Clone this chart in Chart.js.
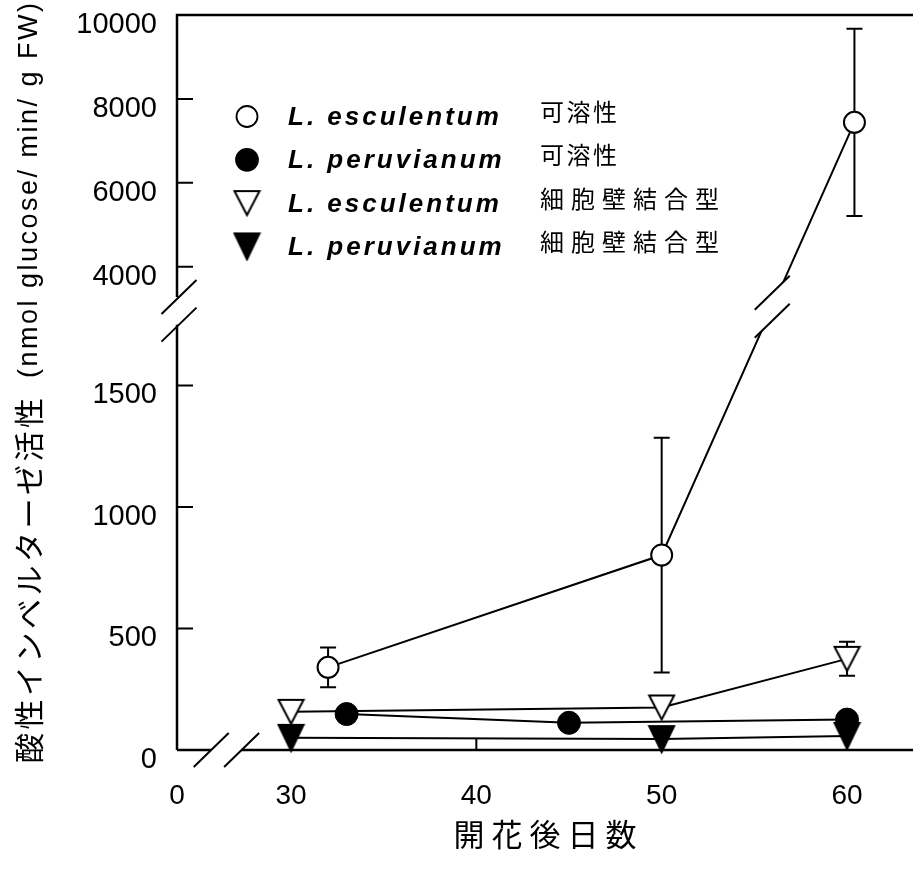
<!DOCTYPE html>
<html>
<head>
<meta charset="utf-8">
<script src="https://cdn.jsdelivr.net/npm/chart.js@4.4.1/dist/chart.umd.min.js"></script>
<style>
  html, body { margin: 0; padding: 0; background: #fff; }
  #wrap { width: 913px; height: 870px; }
</style>
</head>
<body>
<div id="wrap"><canvas id="invertase" width="913" height="870"></canvas></div>
<script>
// days after flowering / acid invertase activity (nmol glucose/min/g FW)
const escSolubleDays = [32, 50, 60.4];
const escSolubleValues = [340, 802, 7440];
const escSolubleErrors = [82, 483, 2230];

const peruSolubleDays = [33, 45, 60];
const peruSolubleValues = [148, 112, 125];

const escWallDays = [30, 50, 60];
const escWallValues = [157, 175, 375];
const escWallErrors = [0, 0, 70];

const peruWallDays = [30, 50, 60];
const peruWallValues = [50, 45, 58];

const xTicks = [0, 30, 40, 50, 60];
const yTicks = [0, 500, 1000, 1500, 4000, 6000, 8000, 10000];

const speciesNames = ['L. esculentum', 'L. peruvianum', 'L. esculentum', 'L. peruvianum'];
const fractionNames = ['可溶性', '可溶性', '細胞壁結合型', '細胞壁結合型'];

const yTitleJa = '酸性インベルターゼ活性';
const yTitleUnit = '(nmol glucose/ min/ g FW)';
const xTitle = '開 花 後 日 数';

// broken axes: value -> fraction of the axis length
const Y_MAP = [[0, 0], [1750, 0.5787], [3276, 0.6163], [10000, 1]];
const X_MAP = [[0, 0], [30, 0.1549], [63.56, 1]];
const Y_GAP = [1750, 3276];
const X_GAP = [9, 17];

function interp(map, v, a, b) {
  let i = 0;
  while (i < map.length - 2 && v > map[i + 1][a]) i++;
  const p = map[i], q = map[i + 1];
  return p[b] + (v - p[a]) * (q[b] - p[b]) / (q[a] - p[a]);
}

class BrokenLinearScale extends Chart.LinearScale {
  get breakMap() { return this.axis === 'y' ? Y_MAP : X_MAP; }
  getPixelForValue(value) {
    if (value === null || isNaN(value)) return NaN;
    return this.getPixelForDecimal(interp(this.breakMap, value, 0, 1));
  }
  getValueForPixel(pixel) {
    return interp(this.breakMap, this.getDecimalForPixel(pixel), 1, 0);
  }
}
BrokenLinearScale.id = 'brokenLinear';
BrokenLinearScale.defaults = Chart.LinearScale.defaults;
Chart.register(BrokenLinearScale);

function makeTriangle(w, h, filled) {
  const c = document.createElement('canvas');
  c.width = w + 4; c.height = h + 4;
  const g = c.getContext('2d');
  g.beginPath();
  g.moveTo(2, 2); g.lineTo(w + 2, 2); g.lineTo(w / 2 + 2, h + 2); g.closePath();
  g.fillStyle = filled ? '#000' : '#fff';
  g.fill();
  g.lineWidth = 2; g.strokeStyle = '#000'; g.stroke();
  return c;
}

const openTri = makeTriangle(25, 24, false);
const fullTri = makeTriangle(25, 26, true);

const toPoints = (xs, ys) => xs.map((x, i) => ({x: x, y: ys[i]}));

const baseSet = {borderColor: '#000', borderWidth: 2, tension: 0, clip: false, pointBorderColor: '#000'};

const datasets = [
  Object.assign({}, baseSet, {
    label: speciesNames[0] + ' ' + fractionNames[0],
    data: toPoints(escSolubleDays, escSolubleValues),
    errors: escSolubleErrors,
    pointStyle: 'circle', pointRadius: 10.5, pointBorderWidth: 2, pointBackgroundColor: '#fff'
  }),
  Object.assign({}, baseSet, {
    label: speciesNames[1] + ' ' + fractionNames[1],
    data: toPoints(peruSolubleDays, peruSolubleValues),
    pointStyle: 'circle', pointRadius: 11.5, pointBorderWidth: 1, pointBackgroundColor: '#000'
  }),
  Object.assign({}, baseSet, {
    label: speciesNames[2] + ' ' + fractionNames[2],
    data: toPoints(escWallDays, escWallValues),
    errors: escWallErrors,
    pointStyle: openTri
  }),
  Object.assign({}, baseSet, {
    label: speciesNames[3] + ' ' + fractionNames[3],
    data: toPoints(peruWallDays, peruWallValues),
    pointStyle: fullTri
  })
];

function drawSpaced(ctx, text, x, y, spacing) {
  for (const ch of text) {
    ctx.fillText(ch, x, y);
    x += ctx.measureText(ch).width + spacing;
  }
  return x;
}

const brokenAxes = {
  id: 'brokenAxes',
  beforeDatasetsDraw(chart) {
    const {ctx, chartArea: area, scales: {x, y}} = chart;
    ctx.save();
    ctx.strokeStyle = '#000';
    ctx.lineWidth = 2.5;
    ctx.lineCap = 'butt';
    const ax = area.left;
    const gapLow = y.getPixelForValue(Y_GAP[0]);
    const gapHigh = y.getPixelForValue(Y_GAP[1]);
    const xGapL = x.getPixelForValue(X_GAP[0]);
    const xGapR = x.getPixelForValue(X_GAP[1]);
    ctx.beginPath();
    // left axis, two pieces
    ctx.moveTo(ax, area.bottom); ctx.lineTo(ax, gapLow);
    ctx.moveTo(ax, gapHigh); ctx.lineTo(ax, area.top);
    // top frame
    ctx.lineTo(area.right, area.top);
    // bottom axis, two pieces
    ctx.moveTo(ax, area.bottom); ctx.lineTo(xGapL, area.bottom);
    ctx.moveTo(xGapR, area.bottom); ctx.lineTo(area.right, area.bottom);
    ctx.stroke();

    // inward ticks
    ctx.lineWidth = 2;
    ctx.beginPath();
    yTicks.forEach(v => {
      if (v === 0 || v === 10000) return;
      const py = y.getPixelForValue(v);
      ctx.moveTo(ax, py); ctx.lineTo(ax + 16, py);
    });
    xTicks.forEach(v => {
      if (v === 0) return;
      const px = x.getPixelForValue(v);
      ctx.moveTo(px, area.bottom); ctx.lineTo(px, area.bottom - 11);
    });
    ctx.stroke();

    // break marks
    const mark = (cx, cy) => {
      ctx.moveTo(cx - 17.5, cy + 17); ctx.lineTo(cx + 17.5, cy - 17);
    };
    ctx.beginPath();
    mark(ax + 2, gapHigh);
    mark(ax + 2, gapLow);
    mark(xGapL, area.bottom);
    mark(xGapR, area.bottom);
    ctx.stroke();

    // error bars
    chart.data.datasets.forEach((ds, i) => {
      if (!ds.errors) return;
      const meta = chart.getDatasetMeta(i);
      ds.data.forEach((p, j) => {
        const e = ds.errors[j];
        if (!e) return;
        const px = meta.data[j].x;
        const top = y.getPixelForValue(p.y + e);
        const bot = y.getPixelForValue(p.y - e);
        ctx.beginPath();
        ctx.moveTo(px, top); ctx.lineTo(px, bot);
        ctx.moveTo(px - 8, top); ctx.lineTo(px + 8, top);
        ctx.moveTo(px - 8, bot); ctx.lineTo(px + 8, bot);
        ctx.stroke();
      });
    });
    ctx.restore();
  },
  afterDatasetsDraw(chart) {
    const {ctx, scales: {y}} = chart;
    // break of the L. esculentum soluble line where it crosses the axis gap
    const meta = chart.getDatasetMeta(0);
    const a = meta.data[1], b = meta.data[2];
    const cy = (y.getPixelForValue(Y_GAP[0]) + y.getPixelForValue(Y_GAP[1])) / 2 - 4;
    const cx = a.x + (b.x - a.x) * (cy - a.y) / (b.y - a.y);
    ctx.save();
    ctx.fillStyle = '#fff';
    ctx.beginPath();
    ctx.moveTo(cx - 17.5, cy - 14 + 17);
    ctx.lineTo(cx + 17.5, cy - 14 - 17);
    ctx.lineTo(cx + 17.5, cy + 14 - 17);
    ctx.lineTo(cx - 17.5, cy + 14 + 17);
    ctx.closePath();
    ctx.fill();
    ctx.strokeStyle = '#000';
    ctx.lineWidth = 2;
    ctx.beginPath();
    ctx.moveTo(cx - 17.5, cy - 14 + 17); ctx.lineTo(cx + 17.5, cy - 14 - 17);
    ctx.moveTo(cx - 17.5, cy + 14 + 17); ctx.lineTo(cx + 17.5, cy + 14 - 17);
    ctx.stroke();
    ctx.restore();
  },
  afterDraw(chart) {
    const {ctx} = chart;
    ctx.save();
    // legend
    const markers = [
      {pointStyle: 'circle', radius: 10.5, fill: '#fff'},
      {pointStyle: 'circle', radius: 11, fill: '#000'},
      {pointStyle: openTri, radius: 10, fill: '#fff'},
      {pointStyle: fullTri, radius: 10, fill: '#000'}
    ];
    speciesNames.forEach((name, i) => {
      const base = 125 + 43.3 * i;
      const m = markers[i];
      ctx.fillStyle = m.fill;
      ctx.strokeStyle = '#000';
      ctx.lineWidth = 1.8;
      Chart.helpers.drawPoint(ctx, {pointStyle: m.pointStyle, radius: m.radius, rotation: 0, borderWidth: 1.8}, 247, base - 8.5);
      ctx.fillStyle = '#000';
      ctx.textBaseline = 'alphabetic';
      ctx.textAlign = 'left';
      ctx.font = 'italic bold 26px "Liberation Sans", Arial, sans-serif';
      drawSpaced(ctx, name, 288, base, 3);
      ctx.font = '24px "Noto Sans CJK JP", sans-serif';
      const gap = fractionNames[i].length > 3 ? 7 : 2.5;
      drawSpaced(ctx, fractionNames[i], 540, base - 4, gap);
    });
    // y axis title, rotated
    ctx.fillStyle = '#000';
    ctx.translate(29, 763);
    ctx.rotate(-Math.PI / 2);
    ctx.textBaseline = 'middle';
    ctx.font = '30px "Noto Sans CJK JP", sans-serif';
    drawSpaced(ctx, yTitleJa, 0, 0, 3.5);
    ctx.font = '27px "Liberation Sans", Arial, sans-serif';
    drawSpaced(ctx, yTitleUnit, 385, 1, 2.5);
    ctx.restore();
  }
};

new Chart(document.getElementById('invertase'), {
  type: 'line',
  data: {datasets: datasets},
  options: {
    responsive: false,
    animation: false,
    events: [],
    layout: {autoPadding: false, padding: {top: 15, right: 0, bottom: 0, left: 0}},
    plugins: {legend: {display: false}, tooltip: {enabled: false}},
    scales: {
      x: {
        type: 'brokenLinear',
        position: 'bottom',
        min: 0,
        max: 63.56,
        grid: {display: false, drawTicks: false},
        border: {display: false},
        afterBuildTicks: scale => { scale.ticks = xTicks.map(v => ({value: v})); },
        afterFit: scale => {
          scale.height = 120;
          scale.paddingLeft = 0;
          scale.paddingRight = 0;
        },
        ticks: {
          color: '#000',
          padding: 29,
          font: {family: '"Liberation Sans", Arial, sans-serif', size: 28},
          callback: v => String(v)
        },
        title: {
          display: true,
          text: xTitle,
          color: '#000',
          padding: {top: 0, bottom: 17},
          font: {family: '"Noto Sans CJK JP", sans-serif', size: 31}
        }
      },
      y: {
        type: 'brokenLinear',
        position: 'left',
        min: 0,
        max: 10000,
        grid: {display: false, drawTicks: false},
        border: {display: false},
        afterBuildTicks: scale => { scale.ticks = yTicks.map(v => ({value: v})); },
        afterFit: scale => {
          scale.width = 177;
          scale.paddingTop = 0;
          scale.paddingBottom = 0;
        },
        ticks: {
          color: '#000',
          padding: 20,
          labelOffset: 10,
          font: {family: '"Liberation Sans", Arial, sans-serif', size: 29},
          callback: v => String(v)
        }
      }
    }
  },
  plugins: [brokenAxes]
});
</script>
</body>
</html>
